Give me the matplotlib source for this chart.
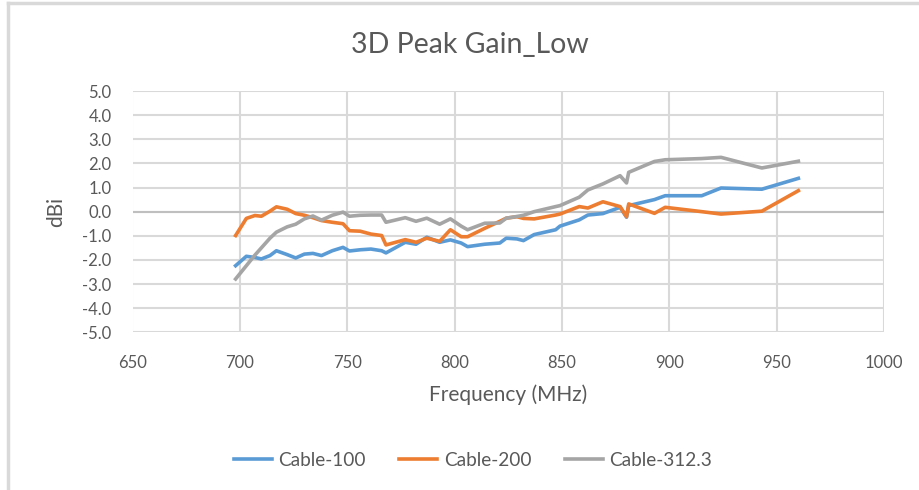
import matplotlib
matplotlib.use("Agg")
import matplotlib.pyplot as plt
from matplotlib.lines import Line2D

plt.rcParams['font.family'] = ['Lato', 'DejaVu Sans']

freq = [698, 703, 707, 710, 714, 717, 722, 726, 730, 734, 738, 743, 748, 751,
        756, 761, 766, 768, 777, 782, 787, 793, 798, 803, 806, 814, 821, 824,
        829, 832, 837, 847, 849, 858, 862, 869, 877, 880, 881, 893, 898, 915,
        924, 943, 960]

cable_100 = [-2.24, -1.85, -1.90, -1.96, -1.82, -1.62, -1.78, -1.92, -1.76, -1.73,
             -1.82, -1.62, -1.48, -1.63, -1.58, -1.55, -1.62, -1.71, -1.27, -1.35,
             -1.06, -1.27, -1.17, -1.30, -1.45, -1.35, -1.30, -1.10, -1.13, -1.20,
             -0.95, -0.75, -0.60, -0.34, -0.14, -0.08, 0.18, -0.23, 0.25, 0.50,
             0.66, 0.66, 0.98, 0.93, 1.38]

cable_200 = [-0.99, -0.28, -0.16, -0.19, 0.02, 0.20, 0.10, -0.08, -0.15, -0.25,
             -0.37, -0.44, -0.50, -0.79, -0.81, -0.93, -0.99, -1.38, -1.16, -1.27,
             -1.10, -1.23, -0.75, -1.04, -1.04, -0.69, -0.40, -0.27, -0.21, -0.28,
             -0.30, -0.14, -0.10, 0.21, 0.15, 0.41, 0.21, -0.21, 0.32, -0.07,
             0.18, 0.00, -0.10, 0.02, 0.87]

cable_312 = [-2.79, -2.24, -1.80, -1.50, -1.10, -0.85, -0.63, -0.52, -0.30, -0.18,
             -0.35, -0.15, -0.02, -0.19, -0.15, -0.14, -0.14, -0.44, -0.25, -0.40,
             -0.27, -0.52, -0.30, -0.60, -0.75, -0.48, -0.47, -0.27, -0.20, -0.15,
             0.00, 0.21, 0.25, 0.60, 0.90, 1.15, 1.49, 1.19, 1.63, 2.08,
             2.15, 2.20, 2.25, 1.81, 2.09]

series_names = ['Cable-100', 'Cable-200', 'Cable-312.3']
series_colors = ['#5B9BD5', '#ED7D31', '#A5A5A5']

x_ticks = [650, 700, 750, 800, 850, 900, 950, 1000]
y_ticks = [5.0, 4.0, 3.0, 2.0, 1.0, 0.0, -1.0, -2.0, -3.0, -4.0, -5.0]

W, H = 919, 490
fig = plt.figure(figsize=(W / 100, H / 100), dpi=100)
left, right, top, bottom = 132.5, 884.3, 91.0, 332.3
ax = fig.add_axes([left / W, 1 - bottom / H, (right - left) / W, (bottom - top) / H])

ax.set_xlim(650, 1000)
ax.set_ylim(-5, 5)
ax.set_xticks(x_ticks)
ax.set_yticks(y_ticks)
ax.set_yticklabels([f"{v:.1f}" for v in y_ticks])
ax.grid(True, color='#D9D9D9', linewidth=1.5)
ax.set_axisbelow(True)
for s in ax.spines.values():
    s.set_visible(False)
ax.axhline(0, color='#BFBFBF', linewidth=1.5, zorder=1.5)
ax.tick_params(length=0, labelsize=12, colors='#595959')
ax.tick_params(axis='x', pad=16)
ax.tick_params(axis='y', pad=15)

for vals, name, col in zip([cable_100, cable_200, cable_312], series_names, series_colors):
    ax.plot(freq, vals, color=col, linewidth=2.6, label=name, solid_joinstyle='round', zorder=3)

ax.set_xlabel('Frequency (MHz)', fontsize=15, color='#595959', labelpad=10)
ax.set_ylabel('dBi', fontsize=15, color='#595959', labelpad=12)

fig.text(470 / W, 1 - 45 / H, '3D Peak Gain_Low', fontsize=20.5, color='#595959',
         ha='center', va='center')

handles = [Line2D([0], [0], color=c, linewidth=2.6) for c in series_colors]
fig.legend(handles, series_names, loc='center', bbox_to_anchor=(473 / W, 1 - 460 / H),
           ncol=3, frameon=False, fontsize=13.7, labelcolor='#595959',
           handlelength=2.0, handletextpad=0.35, columnspacing=1.75)

# chart border (left and top visible)
fig.add_artist(Line2D([8 / W, 8 / W], [0, 1 - 3 / H], color='#D9D9D9', linewidth=2.5,
                      transform=fig.transFigure))
fig.add_artist(Line2D([8 / W, 1], [1 - 3 / H, 1 - 3 / H], color='#D9D9D9', linewidth=2.5,
                      transform=fig.transFigure))

fig.savefig('out.png', dpi=100)
